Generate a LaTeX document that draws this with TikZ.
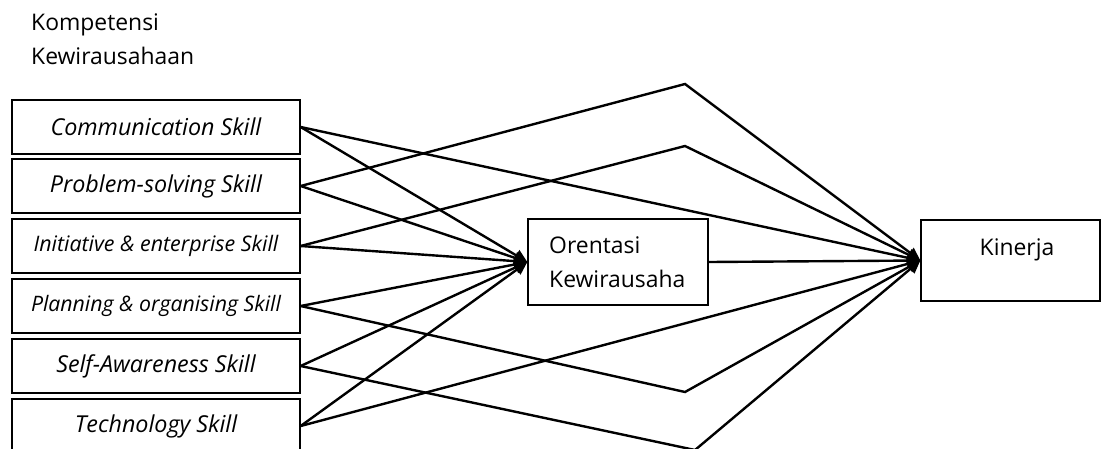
\documentclass[tikz,border=0pt]{standalone}
\usepackage{fontspec}
\setmainfont{Open Sans}
\usetikzlibrary{arrows.meta}
\begin{document}
\begin{tikzpicture}[x=1pt,y=-1pt,
  skillbox/.style={draw,line width=1.3pt,minimum width=288pt,minimum height=54pt,inner sep=0pt,font=\fontsize{23.3}{28}\selectfont\itshape},
  bigbox/.style={draw,line width=1.3pt,inner sep=0pt},
  txt/.style={font=\fontsize{22.9}{34}\selectfont,inner sep=0pt},
  conn/.style={line width=2.4pt},
  arr/.style={conn,-{Triangle[length=13pt,width=12pt]}}]
\useasboundingbox (0,0) rectangle (1102,448);
\fill[white] (0,0) rectangle (1102,448);
\node[txt,anchor=base west,align=left] (title) at (31,64) {Kompetensi\\Kewirausahaan};
\node[skillbox] (s1) at (156,127) {Communication Skill};
\node[skillbox] (s2) at (156,186) {Problem-solving Skill};
\node[skillbox,font=\fontsize{21.4}{25}\selectfont\itshape] (s3) at (156,246) {Initiative \& enterprise Skill};
\node[skillbox,font=\fontsize{21.3}{25}\selectfont\itshape] (s4) at (156,306) {Planning \& organising Skill};
\node[skillbox] (s5) at (156,366) {Self-Awareness Skill};
\node[skillbox] (s6) at (156,426) {Technology Skill};
\node[bigbox,minimum width=180pt,minimum height=86pt] (o) at (618,262) {};
\node[txt,anchor=base west,align=left] (ot) at (549,287) {Orentasi\\Kewirausaha};
\node[bigbox,minimum width=179pt,minimum height=81pt] (k) at (1010.5,260.5) {};
\node[txt,anchor=base] (kt) at (1017,255) {Kinerja};
\coordinate (p1) at (685,84);
\coordinate (p2) at (685,146);
\coordinate (p3) at (685,392);
\coordinate (p4) at (695,450);
\foreach \s in {s1,s2,s3,s4,s5,s6}{\draw[arr] (\s.east) -- (o.west);}
\draw[arr] (s1.east) -- (k.west);
\draw[arr] (s2.east) -- (p1) -- (k.west);
\draw[arr] (s3.east) -- (p2) -- (k.west);
\draw[arr] (s4.east) -- (p3) -- (k.west);
\draw[arr] (s5.east) -- (p4) -- (k.west);
\draw[arr] (s6.east) -- (k.west);
\draw[arr] (o.east) -- (k.west);
\end{tikzpicture}
\end{document}
